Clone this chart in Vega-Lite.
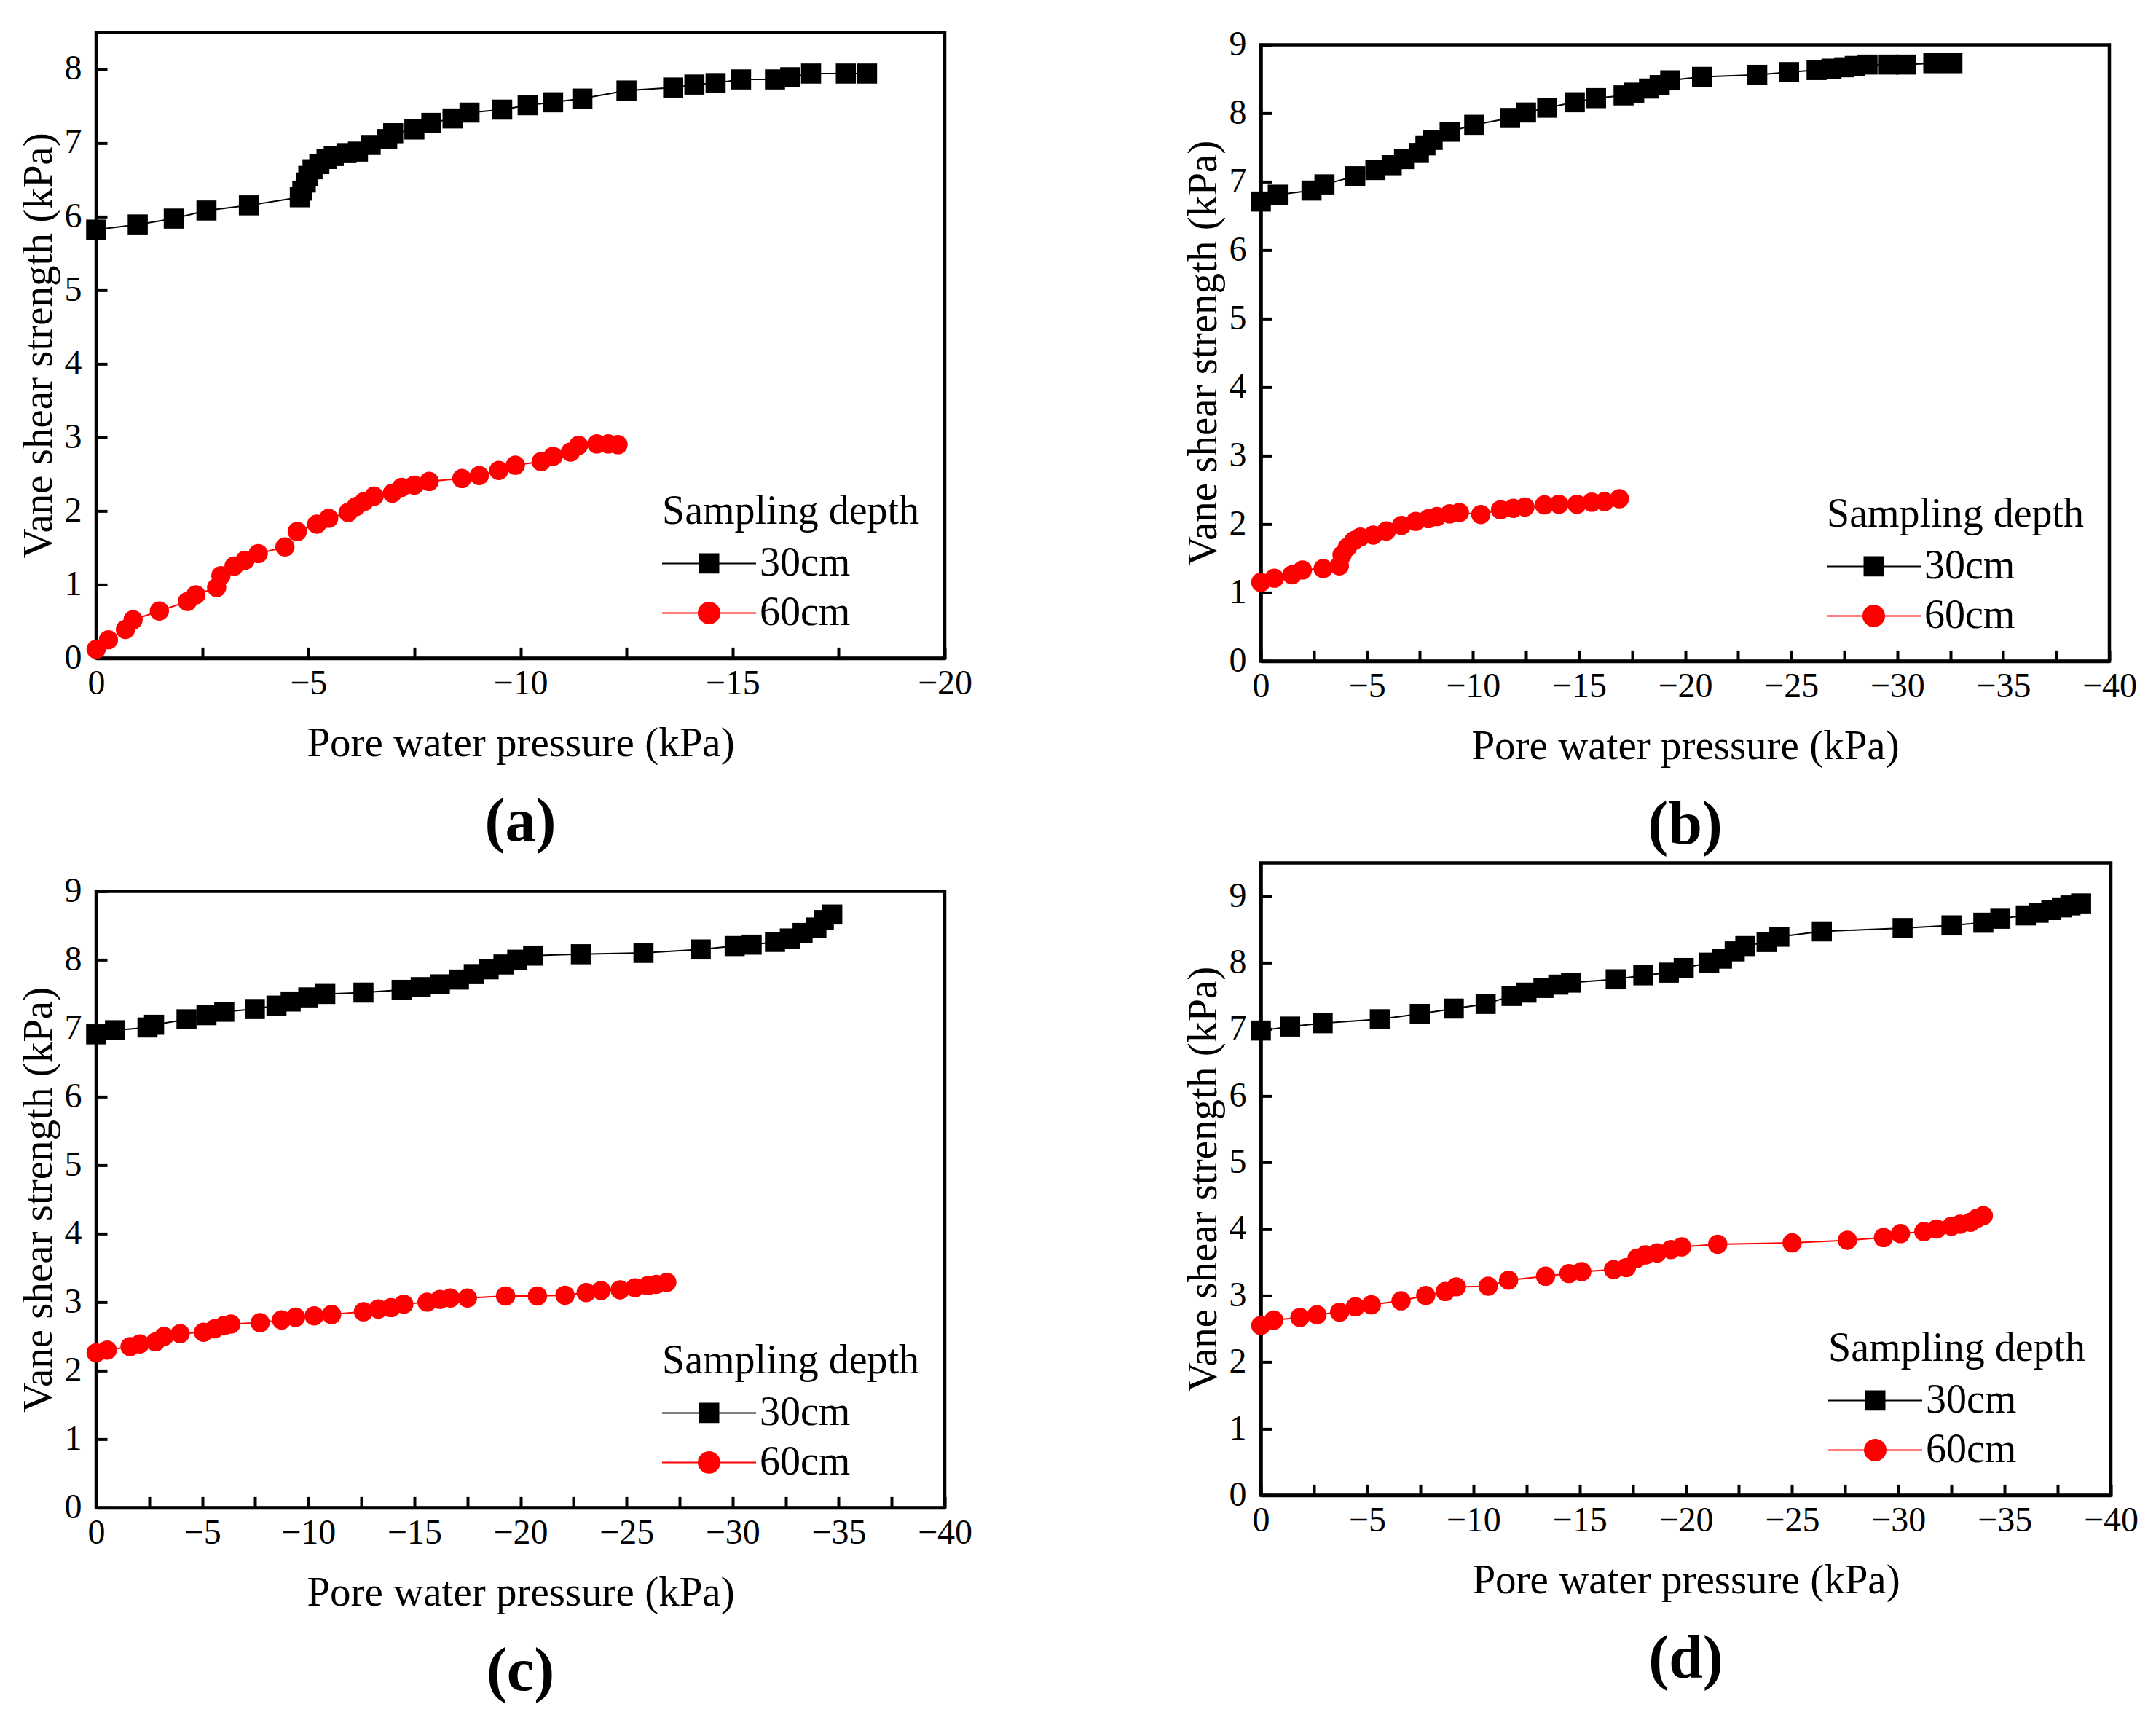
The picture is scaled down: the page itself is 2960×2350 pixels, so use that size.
{
"$schema": "https://vega.github.io/schema/vega-lite/v6.json",
"background": "white",
"padding": {"left": 21, "top": 35, "right": 5, "bottom": 5},
"config": {
 "font": "Liberation Serif",
 "view": {"stroke": "#000000", "strokeWidth": 4.5},
 "axis": {"grid": false, "domainColor": "#000000", "domainWidth": 4.5, "tickColor": "#000000", "tickWidth": 4, "tickSize": -15, "labelFont": "Liberation Serif", "labelFontSize": 48, "labelColor": "#000000", "titleFont": "Liberation Serif", "titleFontSize": 57, "titleFontWeight": "normal", "titleColor": "#000000", "labelFlush": false, "labelOverlap": false, "format": "d"},
 "axisX": {"labelPadding": 26, "titlePadding": 30},
 "axisY": {"labelPadding": 35, "titlePadding": 6},
 "title": {"font": "Liberation Serif", "fontSize": 84, "fontWeight": "bold", "color": "#000000", "orient": "bottom", "offset": 40, "anchor": "middle"},
 "legend": {"orient": "bottom-right", "offset": 34, "padding": 0, "titleFont": "Liberation Serif", "titleFontSize": 56, "titleFontWeight": "normal", "titleColor": "#000000", "titlePadding": 11, "titleLimit": 2000, "labelLimit": 2000, "labelFont": "Liberation Serif", "labelFontSize": 56, "labelColor": "#000000", "labelOffset": 72, "symbolSize": 100, "rowPadding": 9}
},
"datasets": {"all": [
{"panel":"a","depth":"30cm","pressure":0,"strength":5.82},{"panel":"a","depth":"30cm","pressure":-0.98,"strength":5.89},{"panel":"a","depth":"30cm","pressure":-1.83,"strength":5.97},{"panel":"a","depth":"30cm","pressure":-2.6,"strength":6.08},{"panel":"a","depth":"30cm","pressure":-3.6,"strength":6.15},{"panel":"a","depth":"30cm","pressure":-4.8,"strength":6.26},{"panel":"a","depth":"30cm","pressure":-4.86,"strength":6.35},{"panel":"a","depth":"30cm","pressure":-4.94,"strength":6.46},{"panel":"a","depth":"30cm","pressure":-5.0,"strength":6.55},{"panel":"a","depth":"30cm","pressure":-5.1,"strength":6.64},{"panel":"a","depth":"30cm","pressure":-5.26,"strength":6.71},{"panel":"a","depth":"30cm","pressure":-5.43,"strength":6.78},{"panel":"a","depth":"30cm","pressure":-5.6,"strength":6.82},{"panel":"a","depth":"30cm","pressure":-5.9,"strength":6.86},{"panel":"a","depth":"30cm","pressure":-6.17,"strength":6.88},{"panel":"a","depth":"30cm","pressure":-6.47,"strength":6.97},{"panel":"a","depth":"30cm","pressure":-6.86,"strength":7.05},{"panel":"a","depth":"30cm","pressure":-7.0,"strength":7.13},{"panel":"a","depth":"30cm","pressure":-7.5,"strength":7.18},{"panel":"a","depth":"30cm","pressure":-7.9,"strength":7.27},{"panel":"a","depth":"30cm","pressure":-8.4,"strength":7.33},{"panel":"a","depth":"30cm","pressure":-8.8,"strength":7.41},{"panel":"a","depth":"30cm","pressure":-9.57,"strength":7.45},{"panel":"a","depth":"30cm","pressure":-10.17,"strength":7.51},{"panel":"a","depth":"30cm","pressure":-10.77,"strength":7.55},{"panel":"a","depth":"30cm","pressure":-11.46,"strength":7.6},{"panel":"a","depth":"30cm","pressure":-12.5,"strength":7.71},{"panel":"a","depth":"30cm","pressure":-13.6,"strength":7.75},{"panel":"a","depth":"30cm","pressure":-14.1,"strength":7.79},{"panel":"a","depth":"30cm","pressure":-14.6,"strength":7.81},{"panel":"a","depth":"30cm","pressure":-15.2,"strength":7.86},{"panel":"a","depth":"30cm","pressure":-16.0,"strength":7.86},{"panel":"a","depth":"30cm","pressure":-16.36,"strength":7.89},{"panel":"a","depth":"30cm","pressure":-16.85,"strength":7.94},{"panel":"a","depth":"30cm","pressure":-17.67,"strength":7.94},{"panel":"a","depth":"30cm","pressure":-18.17,"strength":7.94},
{"panel":"a","depth":"60cm","pressure":0,"strength":0.12},{"panel":"a","depth":"60cm","pressure":-0.29,"strength":0.25},{"panel":"a","depth":"60cm","pressure":-0.69,"strength":0.39},{"panel":"a","depth":"60cm","pressure":-0.87,"strength":0.52},{"panel":"a","depth":"60cm","pressure":-1.49,"strength":0.64},{"panel":"a","depth":"60cm","pressure":-2.15,"strength":0.77},{"panel":"a","depth":"60cm","pressure":-2.35,"strength":0.86},{"panel":"a","depth":"60cm","pressure":-2.84,"strength":0.96},{"panel":"a","depth":"60cm","pressure":-2.94,"strength":1.12},{"panel":"a","depth":"60cm","pressure":-3.25,"strength":1.25},{"panel":"a","depth":"60cm","pressure":-3.51,"strength":1.33},{"panel":"a","depth":"60cm","pressure":-3.82,"strength":1.42},{"panel":"a","depth":"60cm","pressure":-4.45,"strength":1.51},{"panel":"a","depth":"60cm","pressure":-4.74,"strength":1.72},{"panel":"a","depth":"60cm","pressure":-5.2,"strength":1.82},{"panel":"a","depth":"60cm","pressure":-5.48,"strength":1.9},{"panel":"a","depth":"60cm","pressure":-5.94,"strength":1.98},{"panel":"a","depth":"60cm","pressure":-6.13,"strength":2.06},{"panel":"a","depth":"60cm","pressure":-6.32,"strength":2.13},{"panel":"a","depth":"60cm","pressure":-6.55,"strength":2.2},{"panel":"a","depth":"60cm","pressure":-6.98,"strength":2.24},{"panel":"a","depth":"60cm","pressure":-7.2,"strength":2.32},{"panel":"a","depth":"60cm","pressure":-7.5,"strength":2.35},{"panel":"a","depth":"60cm","pressure":-7.85,"strength":2.4},{"panel":"a","depth":"60cm","pressure":-8.62,"strength":2.44},{"panel":"a","depth":"60cm","pressure":-9.03,"strength":2.48},{"panel":"a","depth":"60cm","pressure":-9.49,"strength":2.55},{"panel":"a","depth":"60cm","pressure":-9.88,"strength":2.62},{"panel":"a","depth":"60cm","pressure":-10.49,"strength":2.67},{"panel":"a","depth":"60cm","pressure":-10.77,"strength":2.74},{"panel":"a","depth":"60cm","pressure":-11.18,"strength":2.8},{"panel":"a","depth":"60cm","pressure":-11.37,"strength":2.89},{"panel":"a","depth":"60cm","pressure":-11.8,"strength":2.91},{"panel":"a","depth":"60cm","pressure":-12.07,"strength":2.91},{"panel":"a","depth":"60cm","pressure":-12.3,"strength":2.9},
{"panel":"b","depth":"30cm","pressure":0,"strength":6.71},{"panel":"b","depth":"30cm","pressure":-0.8,"strength":6.81},{"panel":"b","depth":"30cm","pressure":-2.39,"strength":6.87},{"panel":"b","depth":"30cm","pressure":-3.0,"strength":6.96},{"panel":"b","depth":"30cm","pressure":-4.45,"strength":7.08},{"panel":"b","depth":"30cm","pressure":-5.4,"strength":7.17},{"panel":"b","depth":"30cm","pressure":-6.17,"strength":7.24},{"panel":"b","depth":"30cm","pressure":-6.75,"strength":7.33},{"panel":"b","depth":"30cm","pressure":-7.45,"strength":7.42},{"panel":"b","depth":"30cm","pressure":-7.76,"strength":7.53},{"panel":"b","depth":"30cm","pressure":-8.1,"strength":7.61},{"panel":"b","depth":"30cm","pressure":-8.9,"strength":7.73},{"panel":"b","depth":"30cm","pressure":-10.06,"strength":7.83},{"panel":"b","depth":"30cm","pressure":-11.75,"strength":7.93},{"panel":"b","depth":"30cm","pressure":-12.5,"strength":8.01},{"panel":"b","depth":"30cm","pressure":-13.5,"strength":8.08},{"panel":"b","depth":"30cm","pressure":-14.8,"strength":8.16},{"panel":"b","depth":"30cm","pressure":-15.8,"strength":8.22},{"panel":"b","depth":"30cm","pressure":-17.1,"strength":8.26},{"panel":"b","depth":"30cm","pressure":-17.6,"strength":8.3},{"panel":"b","depth":"30cm","pressure":-18.3,"strength":8.36},{"panel":"b","depth":"30cm","pressure":-18.8,"strength":8.41},{"panel":"b","depth":"30cm","pressure":-19.3,"strength":8.48},{"panel":"b","depth":"30cm","pressure":-20.8,"strength":8.53},{"panel":"b","depth":"30cm","pressure":-23.4,"strength":8.56},{"panel":"b","depth":"30cm","pressure":-24.9,"strength":8.6},{"panel":"b","depth":"30cm","pressure":-26.2,"strength":8.63},{"panel":"b","depth":"30cm","pressure":-26.9,"strength":8.65},{"panel":"b","depth":"30cm","pressure":-27.5,"strength":8.67},{"panel":"b","depth":"30cm","pressure":-28.0,"strength":8.69},{"panel":"b","depth":"30cm","pressure":-28.6,"strength":8.71},{"panel":"b","depth":"30cm","pressure":-29.6,"strength":8.71},{"panel":"b","depth":"30cm","pressure":-30.4,"strength":8.71},{"panel":"b","depth":"30cm","pressure":-31.7,"strength":8.73},{"panel":"b","depth":"30cm","pressure":-32.6,"strength":8.73},
{"panel":"b","depth":"60cm","pressure":0,"strength":1.15},{"panel":"b","depth":"60cm","pressure":-0.64,"strength":1.21},{"panel":"b","depth":"60cm","pressure":-1.47,"strength":1.26},{"panel":"b","depth":"60cm","pressure":-1.96,"strength":1.33},{"panel":"b","depth":"60cm","pressure":-2.94,"strength":1.35},{"panel":"b","depth":"60cm","pressure":-3.7,"strength":1.39},{"panel":"b","depth":"60cm","pressure":-3.83,"strength":1.55},{"panel":"b","depth":"60cm","pressure":-4.08,"strength":1.66},{"panel":"b","depth":"60cm","pressure":-4.39,"strength":1.76},{"panel":"b","depth":"60cm","pressure":-4.69,"strength":1.81},{"panel":"b","depth":"60cm","pressure":-5.3,"strength":1.84},{"panel":"b","depth":"60cm","pressure":-5.92,"strength":1.9},{"panel":"b","depth":"60cm","pressure":-6.63,"strength":1.98},{"panel":"b","depth":"60cm","pressure":-7.3,"strength":2.04},{"panel":"b","depth":"60cm","pressure":-7.9,"strength":2.08},{"panel":"b","depth":"60cm","pressure":-8.3,"strength":2.11},{"panel":"b","depth":"60cm","pressure":-8.9,"strength":2.15},{"panel":"b","depth":"60cm","pressure":-9.36,"strength":2.17},{"panel":"b","depth":"60cm","pressure":-10.37,"strength":2.14},{"panel":"b","depth":"60cm","pressure":-11.3,"strength":2.21},{"panel":"b","depth":"60cm","pressure":-11.9,"strength":2.23},{"panel":"b","depth":"60cm","pressure":-12.45,"strength":2.25},{"panel":"b","depth":"60cm","pressure":-13.37,"strength":2.28},{"panel":"b","depth":"60cm","pressure":-14.05,"strength":2.29},{"panel":"b","depth":"60cm","pressure":-14.9,"strength":2.29},{"panel":"b","depth":"60cm","pressure":-15.6,"strength":2.32},{"panel":"b","depth":"60cm","pressure":-16.2,"strength":2.33},{"panel":"b","depth":"60cm","pressure":-16.9,"strength":2.37},
{"panel":"c","depth":"30cm","pressure":0,"strength":6.91},{"panel":"c","depth":"30cm","pressure":-0.89,"strength":6.97},{"panel":"c","depth":"30cm","pressure":-2.42,"strength":7.01},{"panel":"c","depth":"30cm","pressure":-2.73,"strength":7.05},{"panel":"c","depth":"30cm","pressure":-4.26,"strength":7.13},{"panel":"c","depth":"30cm","pressure":-5.2,"strength":7.19},{"panel":"c","depth":"30cm","pressure":-6.04,"strength":7.24},{"panel":"c","depth":"30cm","pressure":-7.48,"strength":7.28},{"panel":"c","depth":"30cm","pressure":-8.5,"strength":7.33},{"panel":"c","depth":"30cm","pressure":-9.17,"strength":7.39},{"panel":"c","depth":"30cm","pressure":-10.0,"strength":7.45},{"panel":"c","depth":"30cm","pressure":-10.8,"strength":7.5},{"panel":"c","depth":"30cm","pressure":-12.6,"strength":7.52},{"panel":"c","depth":"30cm","pressure":-14.4,"strength":7.56},{"panel":"c","depth":"30cm","pressure":-15.3,"strength":7.6},{"panel":"c","depth":"30cm","pressure":-16.2,"strength":7.64},{"panel":"c","depth":"30cm","pressure":-17.1,"strength":7.71},{"panel":"c","depth":"30cm","pressure":-17.8,"strength":7.79},{"panel":"c","depth":"30cm","pressure":-18.5,"strength":7.86},{"panel":"c","depth":"30cm","pressure":-19.2,"strength":7.93},{"panel":"c","depth":"30cm","pressure":-19.85,"strength":8.0},{"panel":"c","depth":"30cm","pressure":-20.6,"strength":8.06},{"panel":"c","depth":"30cm","pressure":-22.85,"strength":8.08},{"panel":"c","depth":"30cm","pressure":-25.8,"strength":8.1},{"panel":"c","depth":"30cm","pressure":-28.5,"strength":8.15},{"panel":"c","depth":"30cm","pressure":-30.1,"strength":8.2},{"panel":"c","depth":"30cm","pressure":-30.9,"strength":8.22},{"panel":"c","depth":"30cm","pressure":-32.0,"strength":8.26},{"panel":"c","depth":"30cm","pressure":-32.7,"strength":8.31},{"panel":"c","depth":"30cm","pressure":-33.3,"strength":8.39},{"panel":"c","depth":"30cm","pressure":-33.95,"strength":8.47},{"panel":"c","depth":"30cm","pressure":-34.3,"strength":8.58},{"panel":"c","depth":"30cm","pressure":-34.7,"strength":8.66},
{"panel":"c","depth":"60cm","pressure":0,"strength":2.26},{"panel":"c","depth":"60cm","pressure":-0.52,"strength":2.3},{"panel":"c","depth":"60cm","pressure":-1.6,"strength":2.35},{"panel":"c","depth":"60cm","pressure":-2.06,"strength":2.39},{"panel":"c","depth":"60cm","pressure":-2.8,"strength":2.42},{"panel":"c","depth":"60cm","pressure":-3.2,"strength":2.5},{"panel":"c","depth":"60cm","pressure":-3.96,"strength":2.54},{"panel":"c","depth":"60cm","pressure":-5.06,"strength":2.56},{"panel":"c","depth":"60cm","pressure":-5.58,"strength":2.61},{"panel":"c","depth":"60cm","pressure":-6.04,"strength":2.66},{"panel":"c","depth":"60cm","pressure":-6.35,"strength":2.68},{"panel":"c","depth":"60cm","pressure":-7.73,"strength":2.7},{"panel":"c","depth":"60cm","pressure":-8.74,"strength":2.74},{"panel":"c","depth":"60cm","pressure":-9.4,"strength":2.78},{"panel":"c","depth":"60cm","pressure":-10.28,"strength":2.8},{"panel":"c","depth":"60cm","pressure":-11.1,"strength":2.82},{"panel":"c","depth":"60cm","pressure":-12.6,"strength":2.86},{"panel":"c","depth":"60cm","pressure":-13.3,"strength":2.9},{"panel":"c","depth":"60cm","pressure":-13.9,"strength":2.92},{"panel":"c","depth":"60cm","pressure":-14.5,"strength":2.97},{"panel":"c","depth":"60cm","pressure":-15.6,"strength":3.0},{"panel":"c","depth":"60cm","pressure":-16.2,"strength":3.04},{"panel":"c","depth":"60cm","pressure":-16.7,"strength":3.06},{"panel":"c","depth":"60cm","pressure":-17.5,"strength":3.06},{"panel":"c","depth":"60cm","pressure":-19.3,"strength":3.09},{"panel":"c","depth":"60cm","pressure":-20.8,"strength":3.09},{"panel":"c","depth":"60cm","pressure":-22.1,"strength":3.1},{"panel":"c","depth":"60cm","pressure":-23.1,"strength":3.14},{"panel":"c","depth":"60cm","pressure":-23.8,"strength":3.17},{"panel":"c","depth":"60cm","pressure":-24.7,"strength":3.18},{"panel":"c","depth":"60cm","pressure":-25.4,"strength":3.21},{"panel":"c","depth":"60cm","pressure":-26.0,"strength":3.24},{"panel":"c","depth":"60cm","pressure":-26.4,"strength":3.26},{"panel":"c","depth":"60cm","pressure":-26.9,"strength":3.29},
{"panel":"d","depth":"30cm","pressure":0,"strength":6.98},{"panel":"d","depth":"30cm","pressure":-1.38,"strength":7.04},{"panel":"d","depth":"30cm","pressure":-2.91,"strength":7.09},{"panel":"d","depth":"30cm","pressure":-5.6,"strength":7.15},{"panel":"d","depth":"30cm","pressure":-7.48,"strength":7.23},{"panel":"d","depth":"30cm","pressure":-9.08,"strength":7.31},{"panel":"d","depth":"30cm","pressure":-10.58,"strength":7.38},{"panel":"d","depth":"30cm","pressure":-11.8,"strength":7.5},{"panel":"d","depth":"30cm","pressure":-12.5,"strength":7.55},{"panel":"d","depth":"30cm","pressure":-13.3,"strength":7.62},{"panel":"d","depth":"30cm","pressure":-14.0,"strength":7.67},{"panel":"d","depth":"30cm","pressure":-14.6,"strength":7.7},{"panel":"d","depth":"30cm","pressure":-16.7,"strength":7.75},{"panel":"d","depth":"30cm","pressure":-18.0,"strength":7.81},{"panel":"d","depth":"30cm","pressure":-19.2,"strength":7.85},{"panel":"d","depth":"30cm","pressure":-19.9,"strength":7.92},{"panel":"d","depth":"30cm","pressure":-21.1,"strength":8.0},{"panel":"d","depth":"30cm","pressure":-21.7,"strength":8.06},{"panel":"d","depth":"30cm","pressure":-22.3,"strength":8.17},{"panel":"d","depth":"30cm","pressure":-22.8,"strength":8.25},{"panel":"d","depth":"30cm","pressure":-23.8,"strength":8.31},{"panel":"d","depth":"30cm","pressure":-24.4,"strength":8.39},{"panel":"d","depth":"30cm","pressure":-26.4,"strength":8.47},{"panel":"d","depth":"30cm","pressure":-30.2,"strength":8.52},{"panel":"d","depth":"30cm","pressure":-32.5,"strength":8.56},{"panel":"d","depth":"30cm","pressure":-34.0,"strength":8.6},{"panel":"d","depth":"30cm","pressure":-34.8,"strength":8.66},{"panel":"d","depth":"30cm","pressure":-36.0,"strength":8.71},{"panel":"d","depth":"30cm","pressure":-36.6,"strength":8.75},{"panel":"d","depth":"30cm","pressure":-37.2,"strength":8.79},{"panel":"d","depth":"30cm","pressure":-37.7,"strength":8.83},{"panel":"d","depth":"30cm","pressure":-38.1,"strength":8.86},{"panel":"d","depth":"30cm","pressure":-38.6,"strength":8.89},
{"panel":"d","depth":"60cm","pressure":0,"strength":2.55},{"panel":"d","depth":"60cm","pressure":-0.61,"strength":2.63},{"panel":"d","depth":"60cm","pressure":-1.84,"strength":2.67},{"panel":"d","depth":"60cm","pressure":-2.64,"strength":2.71},{"panel":"d","depth":"60cm","pressure":-3.71,"strength":2.75},{"panel":"d","depth":"60cm","pressure":-4.45,"strength":2.83},{"panel":"d","depth":"60cm","pressure":-5.2,"strength":2.86},{"panel":"d","depth":"60cm","pressure":-6.6,"strength":2.92},{"panel":"d","depth":"60cm","pressure":-7.76,"strength":3.0},{"panel":"d","depth":"60cm","pressure":-8.68,"strength":3.06},{"panel":"d","depth":"60cm","pressure":-9.2,"strength":3.13},{"panel":"d","depth":"60cm","pressure":-10.7,"strength":3.14},{"panel":"d","depth":"60cm","pressure":-11.66,"strength":3.23},{"panel":"d","depth":"60cm","pressure":-13.4,"strength":3.29},{"panel":"d","depth":"60cm","pressure":-14.5,"strength":3.33},{"panel":"d","depth":"60cm","pressure":-15.1,"strength":3.36},{"panel":"d","depth":"60cm","pressure":-16.6,"strength":3.39},{"panel":"d","depth":"60cm","pressure":-17.2,"strength":3.42},{"panel":"d","depth":"60cm","pressure":-17.7,"strength":3.56},{"panel":"d","depth":"60cm","pressure":-18.1,"strength":3.61},{"panel":"d","depth":"60cm","pressure":-18.65,"strength":3.64},{"panel":"d","depth":"60cm","pressure":-19.3,"strength":3.69},{"panel":"d","depth":"60cm","pressure":-19.8,"strength":3.73},{"panel":"d","depth":"60cm","pressure":-21.5,"strength":3.77},{"panel":"d","depth":"60cm","pressure":-25.0,"strength":3.79},{"panel":"d","depth":"60cm","pressure":-27.6,"strength":3.83},{"panel":"d","depth":"60cm","pressure":-29.3,"strength":3.87},{"panel":"d","depth":"60cm","pressure":-30.1,"strength":3.93},{"panel":"d","depth":"60cm","pressure":-31.2,"strength":3.96},{"panel":"d","depth":"60cm","pressure":-31.8,"strength":4.0},{"panel":"d","depth":"60cm","pressure":-32.5,"strength":4.04},{"panel":"d","depth":"60cm","pressure":-32.9,"strength":4.07},{"panel":"d","depth":"60cm","pressure":-33.4,"strength":4.1},{"panel":"d","depth":"60cm","pressure":-33.7,"strength":4.16},{"panel":"d","depth":"60cm","pressure":-34.0,"strength":4.2}
]},
"resolve": {"scale": {"color": "independent"}, "legend": {"color": "independent"}},
"spacing": 283,
"center": true,
"hconcat": [
{"vconcat": [
 {"width": 1165, "height": 859, "title": {"text": "(a)"},
  "data": {"name": "all"}, "transform": [{"filter": "datum.panel === 'a'"}],
  "encoding": {
   "x": {"field": "pressure", "type": "quantitative", "scale": {"domain": [-20, 0], "reverse": true, "nice": false, "zero": false}, "axis": {"title": "Pore water pressure (kPa)", "values": [0,-2.5,-5,-7.5,-10,-12.5,-15,-17.5,-20], "format": "d", "labelExpr": "datum.value % 5 === 0 ? datum.label : ''", "encode": {"ticks": {"update": {"y2": {"signal": "datum.value % 5 === 0 ? -15 : -7.5"}}}}}},
   "y": {"field": "strength", "type": "quantitative", "scale": {"domain": [0, 8.5], "nice": false}, "axis": {"title": "Vane shear strength (kPa)", "values": [0,0.5,1,1.5,2,2.5,3,3.5,4,4.5,5,5.5,6,6.5,7,7.5,8], "format": "d", "labelExpr": "datum.value % 1 === 0 ? datum.label : ''", "encode": {"ticks": {"update": {"x2": {"signal": "datum.value % 1 === 0 ? 15 : 7.5"}}}}}},
   "color": {"field": "depth", "type": "nominal", "scale": {"domain": ["30cm", "60cm"], "range": ["#000000", "#ff0000"]}, "legend": {"title": "Sampling depth", "encode": {"symbols": {"update": {"shape": {"signal": "datum.value === '30cm' ? 'M-2.15,0H-0.433M0.433,0H2.15M-0.433,-0.433H0.433V0.433H-0.433Z' : 'M-2.15,0H-0.483M0.483,0H2.15M-0.483,0A0.483,0.483,0,1,0,0.483,0A0.483,0.483,0,1,0,-0.483,0Z'"}, "size": {"value": 3600}, "x": {"value": 64.5}, "fill": {"signal": "datum.value === '30cm' ? '#000000' : '#ff0000'"}, "stroke": {"signal": "datum.value === '30cm' ? '#000000' : '#ff0000'"}, "strokeWidth": {"value": 2}, "opacity": {"value": 1}, "fillOpacity": {"value": 1}, "strokeOpacity": {"value": 1}}}}}}
  },
  "layer": [
   {"mark": {"type": "line", "strokeWidth": 2}},
   {"transform": [{"filter": "datum.depth === '30cm'"}], "mark": {"type": "point", "shape": "square", "filled": true, "size": 760, "opacity": 1}},
   {"transform": [{"filter": "datum.depth === '60cm'"}], "mark": {"type": "point", "shape": "circle", "filled": true, "size": 700, "opacity": 1}}
  ]
 },
 {"width": 1165, "height": 846, "title": {"text": "(c)"},
  "data": {"name": "all"}, "transform": [{"filter": "datum.panel === 'c'"}],
  "encoding": {
   "x": {"field": "pressure", "type": "quantitative", "scale": {"domain": [-40, 0], "reverse": true, "nice": false, "zero": false}, "axis": {"title": "Pore water pressure (kPa)", "values": [0,-2.5,-5,-7.5,-10,-12.5,-15,-17.5,-20,-22.5,-25,-27.5,-30,-32.5,-35,-37.5,-40], "format": "d", "labelExpr": "datum.value % 5 === 0 ? datum.label : ''", "encode": {"ticks": {"update": {"y2": {"signal": "datum.value % 5 === 0 ? -15 : -7.5"}}}}}},
   "y": {"field": "strength", "type": "quantitative", "scale": {"domain": [0, 9], "nice": false}, "axis": {"title": "Vane shear strength (kPa)", "values": [0,0.5,1,1.5,2,2.5,3,3.5,4,4.5,5,5.5,6,6.5,7,7.5,8,8.5,9], "format": "d", "labelExpr": "datum.value % 1 === 0 ? datum.label : ''", "encode": {"ticks": {"update": {"x2": {"signal": "datum.value % 1 === 0 ? 15 : 7.5"}}}}}},
   "color": {"field": "depth", "type": "nominal", "scale": {"domain": ["30cm", "60cm"], "range": ["#000000", "#ff0000"]}, "legend": {"title": "Sampling depth", "encode": {"symbols": {"update": {"shape": {"signal": "datum.value === '30cm' ? 'M-2.15,0H-0.433M0.433,0H2.15M-0.433,-0.433H0.433V0.433H-0.433Z' : 'M-2.15,0H-0.483M0.483,0H2.15M-0.483,0A0.483,0.483,0,1,0,0.483,0A0.483,0.483,0,1,0,-0.483,0Z'"}, "size": {"value": 3600}, "x": {"value": 64.5}, "fill": {"signal": "datum.value === '30cm' ? '#000000' : '#ff0000'"}, "stroke": {"signal": "datum.value === '30cm' ? '#000000' : '#ff0000'"}, "strokeWidth": {"value": 2}, "opacity": {"value": 1}, "fillOpacity": {"value": 1}, "strokeOpacity": {"value": 1}}}}}}
  },
  "layer": [
   {"mark": {"type": "line", "strokeWidth": 2}},
   {"transform": [{"filter": "datum.depth === '30cm'"}], "mark": {"type": "point", "shape": "square", "filled": true, "size": 760, "opacity": 1}},
   {"transform": [{"filter": "datum.depth === '60cm'"}], "mark": {"type": "point", "shape": "circle", "filled": true, "size": 700, "opacity": 1}}
  ]
 }
], "spacing": 22, "resolve": {"scale": {"color": "independent"}, "legend": {"color": "independent"}}},
{"vconcat": [
 {"width": 1165, "height": 846, "title": {"text": "(b)"},
  "data": {"name": "all"}, "transform": [{"filter": "datum.panel === 'b'"}],
  "encoding": {
   "x": {"field": "pressure", "type": "quantitative", "scale": {"domain": [-40, 0], "reverse": true, "nice": false, "zero": false}, "axis": {"title": "Pore water pressure (kPa)", "values": [0,-2.5,-5,-7.5,-10,-12.5,-15,-17.5,-20,-22.5,-25,-27.5,-30,-32.5,-35,-37.5,-40], "format": "d", "labelExpr": "datum.value % 5 === 0 ? datum.label : ''", "encode": {"ticks": {"update": {"y2": {"signal": "datum.value % 5 === 0 ? -15 : -7.5"}}}}}},
   "y": {"field": "strength", "type": "quantitative", "scale": {"domain": [0, 9], "nice": false}, "axis": {"title": "Vane shear strength (kPa)", "values": [0,0.5,1,1.5,2,2.5,3,3.5,4,4.5,5,5.5,6,6.5,7,7.5,8,8.5,9], "format": "d", "labelExpr": "datum.value % 1 === 0 ? datum.label : ''", "encode": {"ticks": {"update": {"x2": {"signal": "datum.value % 1 === 0 ? 15 : 7.5"}}}}}},
   "color": {"field": "depth", "type": "nominal", "scale": {"domain": ["30cm", "60cm"], "range": ["#000000", "#ff0000"]}, "legend": {"title": "Sampling depth", "encode": {"symbols": {"update": {"shape": {"signal": "datum.value === '30cm' ? 'M-2.15,0H-0.433M0.433,0H2.15M-0.433,-0.433H0.433V0.433H-0.433Z' : 'M-2.15,0H-0.483M0.483,0H2.15M-0.483,0A0.483,0.483,0,1,0,0.483,0A0.483,0.483,0,1,0,-0.483,0Z'"}, "size": {"value": 3600}, "x": {"value": 64.5}, "fill": {"signal": "datum.value === '30cm' ? '#000000' : '#ff0000'"}, "stroke": {"signal": "datum.value === '30cm' ? '#000000' : '#ff0000'"}, "strokeWidth": {"value": 2}, "opacity": {"value": 1}, "fillOpacity": {"value": 1}, "strokeOpacity": {"value": 1}}}}}}
  },
  "layer": [
   {"mark": {"type": "line", "strokeWidth": 2}},
   {"transform": [{"filter": "datum.depth === '30cm'"}], "mark": {"type": "point", "shape": "square", "filled": true, "size": 760, "opacity": 1}},
   {"transform": [{"filter": "datum.depth === '60cm'"}], "mark": {"type": "point", "shape": "circle", "filled": true, "size": 700, "opacity": 1}}
  ]
 },
 {"width": 1167, "height": 868, "title": {"text": "(d)"},
  "data": {"name": "all"}, "transform": [{"filter": "datum.panel === 'd'"}],
  "encoding": {
   "x": {"field": "pressure", "type": "quantitative", "scale": {"domain": [-40, 0], "reverse": true, "nice": false, "zero": false}, "axis": {"title": "Pore water pressure (kPa)", "values": [0,-2.5,-5,-7.5,-10,-12.5,-15,-17.5,-20,-22.5,-25,-27.5,-30,-32.5,-35,-37.5,-40], "format": "d", "labelExpr": "datum.value % 5 === 0 ? datum.label : ''", "encode": {"ticks": {"update": {"y2": {"signal": "datum.value % 5 === 0 ? -15 : -7.5"}}}}}},
   "y": {"field": "strength", "type": "quantitative", "scale": {"domain": [0, 9.5], "nice": false}, "axis": {"title": "Vane shear strength (kPa)", "values": [0,0.5,1,1.5,2,2.5,3,3.5,4,4.5,5,5.5,6,6.5,7,7.5,8,8.5,9], "format": "d", "labelExpr": "datum.value % 1 === 0 ? datum.label : ''", "encode": {"ticks": {"update": {"x2": {"signal": "datum.value % 1 === 0 ? 15 : 7.5"}}}}}},
   "color": {"field": "depth", "type": "nominal", "scale": {"domain": ["30cm", "60cm"], "range": ["#000000", "#ff0000"]}, "legend": {"title": "Sampling depth", "encode": {"symbols": {"update": {"shape": {"signal": "datum.value === '30cm' ? 'M-2.15,0H-0.433M0.433,0H2.15M-0.433,-0.433H0.433V0.433H-0.433Z' : 'M-2.15,0H-0.483M0.483,0H2.15M-0.483,0A0.483,0.483,0,1,0,0.483,0A0.483,0.483,0,1,0,-0.483,0Z'"}, "size": {"value": 3600}, "x": {"value": 64.5}, "fill": {"signal": "datum.value === '30cm' ? '#000000' : '#ff0000'"}, "stroke": {"signal": "datum.value === '30cm' ? '#000000' : '#ff0000'"}, "strokeWidth": {"value": 2}, "opacity": {"value": 1}, "fillOpacity": {"value": 1}, "strokeOpacity": {"value": 1}}}}}}
  },
  "layer": [
   {"mark": {"type": "line", "strokeWidth": 2}},
   {"transform": [{"filter": "datum.depth === '30cm'"}], "mark": {"type": "point", "shape": "square", "filled": true, "size": 760, "opacity": 1}},
   {"transform": [{"filter": "datum.depth === '60cm'"}], "mark": {"type": "point", "shape": "circle", "filled": true, "size": 700, "opacity": 1}}
  ]
 }
], "spacing": 3, "resolve": {"scale": {"color": "independent"}, "legend": {"color": "independent"}}}
]
}
